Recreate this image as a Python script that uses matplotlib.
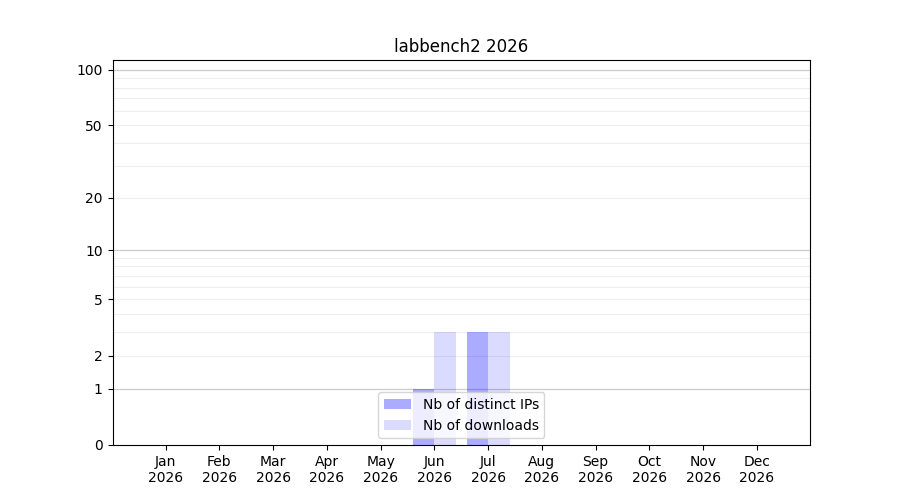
import numpy as np
import matplotlib
matplotlib.use('Agg')
import matplotlib.pyplot as plt

# --- data ---
TITLE = 'labbench2 2026'
month_labels = ['Jan\n2026', 'Feb\n2026', 'Mar\n2026', 'Apr\n2026', 'May\n2026', 'Jun\n2026',
                'Jul\n2026', 'Aug\n2026', 'Sep\n2026', 'Oct\n2026', 'Nov\n2026', 'Dec\n2026']
distinct_ips = [0, 0, 0, 0, 0, 1, 3, 0, 0, 0, 0, 0]
downloads = [0, 0, 0, 0, 0, 3, 3, 0, 0, 0, 0, 0]
y_ticks = [0, 1, 2, 5, 10, 20, 50, 100]


def fwd(v):
    return np.log10(1 + np.clip(v, 0, None))


def inv(v):
    return 10 ** v - 1


fig, ax = plt.subplots(figsize=(9, 5), dpi=100)

x = np.arange(len(month_labels))
width = 0.4
ax.bar(x - width / 2, distinct_ips, width=width, color='blue', alpha=0.33,
       label='Nb of distinct IPs')
ax.bar(x + width / 2, downloads, width=width, color='blue', alpha=0.14,
       label='Nb of downloads')

ax.set_yscale('function', functions=(fwd, inv))
ax.set_ylim(0, 113)
ax.set_yticks(y_ticks)
ax.set_yticklabels([str(t) for t in y_ticks])
ax.yaxis.set_minor_locator(matplotlib.ticker.NullLocator())

# grille: lignes fortes aux puissances de 10, légères ailleurs
for v in [1, 10, 100]:
    ax.axhline(v, color='#cccccc', linewidth=0.9, zorder=0)
for v in list(range(2, 10)) + list(range(20, 100, 10)):
    ax.axhline(v, color='#eeeeee', linewidth=0.8, zorder=0)

ax.set_xticks(x)
ax.set_xticklabels(month_labels)

ax.set_title(TITLE)
ax.legend(loc='lower center')

plt.savefig('out.png', dpi=100)
